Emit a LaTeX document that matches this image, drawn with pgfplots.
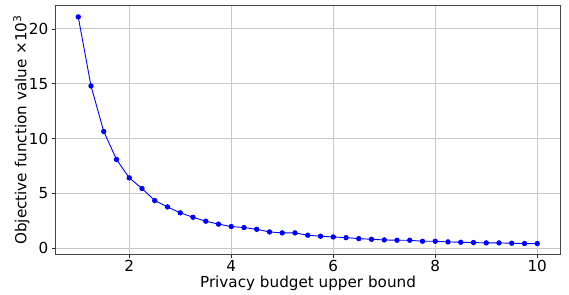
\documentclass[border=0pt]{standalone}
\usepackage{pgfplots}
\pgfplotsset{compat=1.18}
\usepackage{fontspec}
\setmainfont{DejaVu Sans}
\definecolor{gridc}{RGB}{200,200,200}
\definecolor{spinec}{RGB}{70,70,70}
\definecolor{tickc}{RGB}{40,40,40}
\begin{document}
\begin{tikzpicture}[x=1pt,y=1pt]
\begin{axis}[name=ax,
  scale only axis, width=505.4pt, height=248.6pt,
  xmin=0.55, xmax=10.46, ymin=-0.55, ymax=22.12,
  xtick={2,4,6,8,10}, ytick={0,5,10,15,20},
  /pgf/number format/assume math mode=true,
  tick label style={font=\fontsize{15.2}{18}\selectfont},
  label style={font=\fontsize{15.2}{18}\selectfont},
  xlabel={Privacy budget upper bound},
  ylabel={Objective function value ×10\textsuperscript{3}},
  xlabel style={yshift=2.5pt},
  ylabel style={yshift=-7.5pt},
  grid=major,
  grid style={color=gridc, line width=0.9pt},
  axis line style={color=spinec, line width=0.9pt},
  tick style={color=tickc, line width=0.7pt},
  tick align=outside, major tick length=3.5pt,
  xtick pos=bottom, ytick pos=left,
  xticklabel style={yshift=1pt},
]
\addplot[color=blue, line width=0.9pt, mark=*, mark size=2.2pt, mark options={fill=blue, draw=blue}] coordinates {
(1.00,21.10) (1.25,14.80) (1.50,10.65) (1.75,8.10) (2.00,6.42) (2.25,5.45)
(2.50,4.35) (2.75,3.77) (3.00,3.23) (3.25,2.83) (3.50,2.47) (3.75,2.20)
(4.00,1.98) (4.25,1.89) (4.50,1.73) (4.75,1.49) (5.00,1.40) (5.25,1.40)
(5.50,1.19) (5.75,1.10) (6.00,1.03) (6.25,0.97) (6.50,0.88) (6.75,0.82)
(7.00,0.76) (7.25,0.73) (7.50,0.73) (7.75,0.64) (8.00,0.64) (8.25,0.58)
(8.50,0.55) (8.75,0.52) (9.00,0.49) (9.25,0.49) (9.50,0.46) (9.75,0.43)
(10.00,0.43)
};
\end{axis}
\pgfresetboundingbox
\useasboundingbox ([shift={(-55.3pt,-40.7pt)}]ax.south west) rectangle ([shift={(8.3pt,5.7pt)}]ax.north east);
\end{tikzpicture}
\end{document}
